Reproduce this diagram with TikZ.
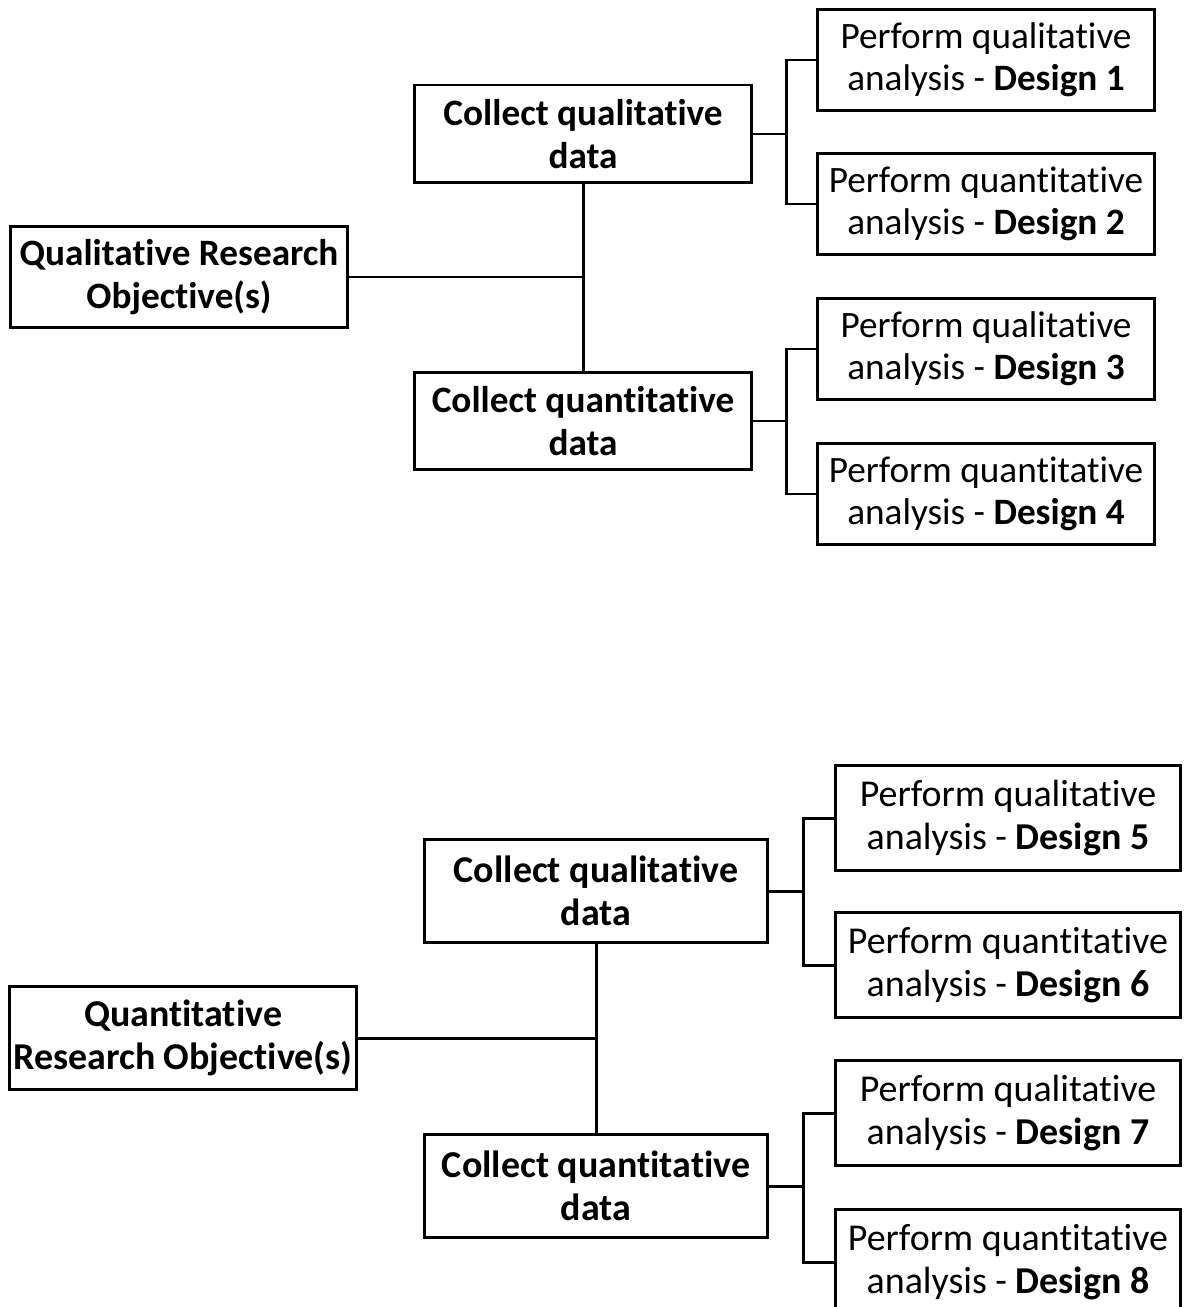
\documentclass[tikz,border=0pt]{standalone}
\usepackage{fontspec}
\setmainfont{Carlito}[Ligatures=NoCommon]

\begin{document}
\begin{tikzpicture}[x=0.02cm, y=-0.02cm, line width=1.7pt]
    \tikzstyle{every node}=[draw, rectangle, align=center, inner sep=2pt, font=\fontsize{21.2}{24}\selectfont]
    \tikzstyle{topbox}=[minimum width=6.74cm, minimum height=2.02cm]
    \tikzstyle{lowbox}=[minimum width=6.9cm, minimum height=2.07cm, font=\fontsize{21.6}{24.4}\selectfont]

    \useasboundingbox (0,0) rectangle (1189,1307);
    \clip (0,0) rectangle (1189,1307);

% The following code draws the qualitative objective and its four designs.

    \node[topbox] (obj1) at (179,277) {\textbf{Qualitative Research}\\\textbf{Objective(s)}};
    \node[topbox, minimum height=1.96cm] (c1) at (583,134) {\textbf{Collect qualitative}\\\textbf{data}};
    \node[topbox, minimum height=1.96cm] (c2) at (583,421) {\textbf{Collect quantitative}\\\textbf{data}};
    \node[topbox] (d1) at (986,60) {Perform qualitative\\analysis - \textbf{Design 1}};
    \node[topbox] (d2) at (986,204) {Perform quantitative\\analysis - \textbf{Design 2}};
    \node[topbox] (d3) at (986,349) {Perform qualitative\\analysis - \textbf{Design 3}};
    \node[topbox] (d4) at (986,494) {Perform quantitative\\analysis - \textbf{Design 4}};

    \draw (obj1.east) -- (obj1.east -| c1.south);
    \draw (c1.south) -- (c2.north);
    \draw (c1.east) -- ++(34,0) coordinate (j1);
    \draw (d1.west) -| (j1) |- (d2.west);
    \draw (c2.east) -- ++(34,0) coordinate (j2);
    \draw (d3.west) -| (j2) |- (d4.west);

% The following code draws the quantitative objective and its four designs.

    \node[lowbox] (obj2) at (183,1038) {\textbf{Quantitative}\\\textbf{Research Objective(s)}};
    \node[lowbox, minimum width=6.88cm] (c3) at (596,891) {\textbf{Collect qualitative}\\\textbf{data}};
    \node[lowbox, minimum width=6.88cm] (c4) at (596,1186) {\textbf{Collect quantitative}\\\textbf{data}};
    \node[lowbox, minimum height=2.1cm] (d5) at (1008,818) {Perform qualitative\\analysis - \textbf{Design 5}};
    \node[lowbox, minimum height=2.1cm] (d6) at (1008,965) {Perform quantitative\\analysis - \textbf{Design 6}};
    \node[lowbox, minimum height=2.1cm] (d7) at (1008,1113) {Perform qualitative\\analysis - \textbf{Design 7}};
    \node[lowbox, minimum height=2.1cm] (d8) at (1008,1262) {Perform quantitative\\analysis - \textbf{Design 8}};

    \draw (obj2.east) -- (obj2.east -| c3.south);
    \draw (c3.south) -- (c4.north);
    \draw (c3.east) -- ++(34,0) coordinate (j3);
    \draw (d5.west) -| (j3) |- (d6.west);
    \draw (c4.east) -- ++(34,0) coordinate (j4);
    \draw (d7.west) -| (j4) |- (d8.west);

\end{tikzpicture}
\end{document}
